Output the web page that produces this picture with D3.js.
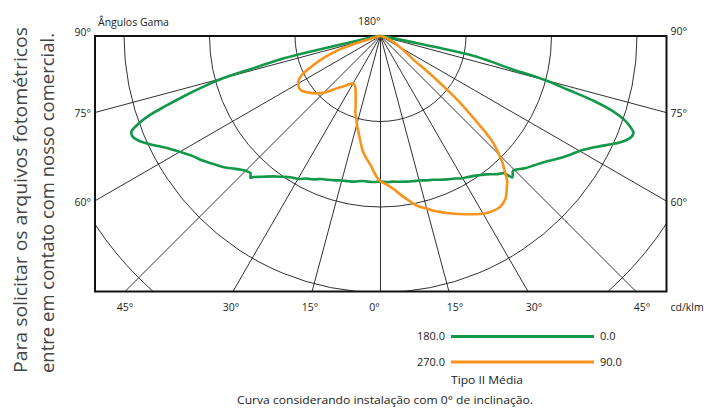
<!DOCTYPE html>
<html><head><meta charset="utf-8">
<script src="https://cdn.jsdelivr.net/npm/d3@7"></script>
<style>
body{margin:0;background:#fff;}
svg text{font-family:"Open Sans",sans-serif;fill:#222;}
</style></head><body>
<svg id="chart" width="718" height="410"></svg>
<script>
// ---------- DATA (gamma angle in degrees, intensity in cd/klm) ----------
const anglesC180 = [0,2.5,5,7.5,10,12.5,15,17.5,20,22.5,25,27.5,30,32.5,35,37.5,40,42,42.5,43.5,45,47.5,50,52.5,55,57.5,60,62.5,65,66,67,68,69,70,71,72,73,74,75,76,77,77.5,78,80,82,85,90];
const valuesC180 = [170,171,171,171,173,174,175,177,179,181,185,188,193,196,201,207,215,222,225,221,223,230,239,246,254,261,271,283,299,305,310,313,312,302,287,263,240,216,191,146,117,82,41,14,7,2,0];

const anglesC0 = [0,2.5,5,7.5,10,12.5,15,17.5,20,22.5,25,27.5,30,32.5,35,37.5,40,42,43,44.5,45.5,47.5,50,52.5,55,57.5,60,62.5,65,66,67,68,69,70,71,72,73,74,75,76,77,78,78.5,79,80,82,85,90];
const valuesC0 = [170,171,171,172,173,174,175,177,179,182,185,188,192,195,199,204,211,216,226,221,223,229,235,242,251,260,269,282,299,306,312,316,317,311,302,287,263,228,199,154,132,111,82,41,16,7,2,0];

const anglesC270 = [0,1.5,2.8,4,6,8,9,10.5,12.5,14.5,16,18,20,22.5,25,27.5,30,31,33,35,37.5,40,42.5,45,47.5,50,52.5,55,57.5,60,62,64,66,68.2,70,71,72,73,74,75,77.5,80,90];
const valuesC270 = [170,165,159,153,146,139,135,127,117,109,102,95,85,76,69,65,64,65,67,71,75,80,87,94,99,104,108,112,113,111,108,101,89,76,63,56,47,35,21,9,4,1,0];

const anglesC90 = [0,2.5,5,7.5,10,12.5,15,17.5,20,22.5,25,27.5,30,32.5,35,37.5,40,41,42,43,44,45,46,46.5,47,47.5,48,49,50,51,52,53,54,56,58,62,66,70,75,80,90];
const valuesC90 = [170,174,180,188,196,204,209,215,220,225,230,235,240,243,244,240,230,226,219,212,205,196,187,182,175,166,156,138,122,102,84,67,50,40,32,22,15,9,4,1,0];

const ringValues = [100,200,300,400];
const rayAngles = [-90,-75,-60,-45,-30,-15,0,15,30,45,60,75,90];
const sideTickAngles = [90,75,60];
const bottomTickAngles = [-45,-30,-15,0,15,30,45];
const legendLeft = ["180.0","270.0"];
const legendRight = ["0.0","90.0"];
const colors = ["#13984a","#f7941d"];

// ---------- LAYOUT ----------
const svg = d3.select("#chart");
const box = {left:95, right:666.5, top:36, bottom:291.5};
const cx = 380.5, cy = 36;

const rScale = d3.scaleLinear().domain([0,400]).range([0,342]);
// signed gamma: negative = left half-plane (180 / 270), positive = right (0 / 90)
const aScale = d3.scaleLinear().domain([-90,90]).range([1.5*Math.PI, 0.5*Math.PI]);
const rad = d => d*Math.PI/180;

svg.append("defs").append("clipPath").attr("id","boxclip")
  .append("rect").attr("x",box.left).attr("y",box.top)
  .attr("width",box.right-box.left).attr("height",box.bottom-box.top);

const grid = svg.append("g").attr("clip-path","url(#boxclip)");
const g = grid.append("g").attr("transform",`translate(${cx},${cy})`);

g.selectAll("circle.ring").data(ringValues).join("circle")
  .attr("class","ring").attr("r",d=>rScale(d))
  .attr("fill","none").attr("stroke","#1a1a1a").attr("stroke-width",0.9);

g.selectAll("line.ray").data(rayAngles).join("line")
  .attr("class","ray")
  .attr("x1",0).attr("y1",0)
  .attr("x2",d=>d3.pointRadial(aScale(d), rScale(700))[0])
  .attr("y2",d=>d3.pointRadial(aScale(d), rScale(700))[1])
  .attr("stroke","#1a1a1a").attr("stroke-width",0.9);

// frame
svg.append("rect").attr("x",box.left).attr("y",box.top)
  .attr("width",box.right-box.left).attr("height",box.bottom-box.top)
  .attr("fill","none").attr("stroke","#111").attr("stroke-width",2);

// curves
function plane(angL, valL, angR, valR){
  const pts = [];
  for(let i=angL.length-1;i>=0;i--) pts.push({g:-angL[i], v:valL[i]});
  for(let i=1;i<angR.length;i++) pts.push({g:angR[i], v:valR[i]});
  return pts;
}
const lineR = d3.lineRadial().angle(d=>aScale(d.g)).radius(d=>rScale(d.v))
  .curve(d3.curveCatmullRom.alpha(0.5));
const cg = svg.append("g").attr("transform",`translate(${cx},${cy})`);
cg.append("path").datum(plane(anglesC180,valuesC180,anglesC0,valuesC0))
  .attr("d",lineR).attr("fill","none").attr("stroke",colors[0]).attr("stroke-width",2.6).attr("stroke-linejoin","round");
cg.append("path").datum(plane(anglesC270,valuesC270,anglesC90,valuesC90))
  .attr("d",lineR).attr("fill","none").attr("stroke",colors[1]).attr("stroke-width",2.6).attr("stroke-linejoin","round");

// ---------- TEXT ----------
const fs = "10.5px";
svg.append("text").attr("x",box.left+3).attr("y",22).attr("dy","0.35em").style("font-size",fs).text("Ângulos Gama");
svg.append("text").attr("x",cx).attr("y",21).attr("dy","0.35em").attr("text-anchor","end").style("font-size",fs).text("180°");

const W = cx - box.left, WR = box.right - cx, H = box.bottom - cy;
svg.selectAll("text.lt").data(sideTickAngles).join("text").attr("class","lt")
  .attr("x",box.left-4).attr("y",d=> d===90 ? cy-4 : cy + W/Math.tan(rad(d)) + 1)
  .attr("dy","0.35em").attr("text-anchor","end").style("font-size",fs).text(d=>d+"°");
svg.selectAll("text.rt").data(sideTickAngles).join("text").attr("class","rt")
  .attr("x",box.right+4).attr("y",d=> d===90 ? cy-5 : cy + WR/Math.tan(rad(d)) + 1)
  .attr("dy","0.35em").attr("text-anchor","start").style("font-size",fs).text(d=>d+"°");
svg.selectAll("text.bt").data(bottomTickAngles).join("text").attr("class","bt")
  .attr("x",d=> cx + H*Math.tan(rad(d)) + (d>0 ? 6 : d===0 ? -6 : (d===-45?0:-2)))
  .attr("y",box.bottom+15.5).attr("dy","0.35em").attr("text-anchor","middle").style("font-size",fs)
  .text(d=>Math.abs(d)+"°");
svg.append("text").attr("x",box.right+4).attr("y",box.bottom+15.5).attr("dy","0.35em").style("font-size",fs).text("cd/klm");

// legend
const legY = [336.5, 362];
svg.selectAll("text.ll").data(legendLeft).join("text").attr("class","ll")
  .attr("x",445).attr("y",(d,i)=>legY[i]).attr("dy","0.35em").attr("text-anchor","end").style("font-size","11px").text(d=>d);
svg.selectAll("line.leg").data(colors).join("line").attr("class","leg")
  .attr("x1",451).attr("x2",594).attr("y1",(d,i)=>legY[i]).attr("y2",(d,i)=>legY[i])
  .attr("stroke",d=>d).attr("stroke-width",3);
svg.selectAll("text.lr").data(legendRight).join("text").attr("class","lr")
  .attr("x",600).attr("y",(d,i)=>legY[i]).attr("dy","0.35em").style("font-size","11px").text(d=>d);
svg.append("text").attr("x",451).attr("y",380).attr("dy","0.35em").attr("textLength",72).attr("lengthAdjust","spacingAndGlyphs")
  .style("font-size","11px").text("Tipo II Média");
svg.append("text").attr("x",237).attr("y",400).attr("dy","0.35em").attr("textLength",296).attr("lengthAdjust","spacingAndGlyphs")
  .style("font-size","11px").text("Curva considerando instalação com 0° de inclinação.");

// rotated side note
const note = ["Para solicitar os arquivos fotométricos","entre em contato com nosso comercial."];
const noteX = [26.5, 54];
const noteLen = [346, 340];
svg.selectAll("text.note").data(note).join("text").attr("class","note")
  .attr("transform",(d,i)=>`translate(${noteX[i]},373) rotate(-90)`)
  .attr("x",0).attr("y",0).attr("textLength",(d,i)=>noteLen[i]).attr("lengthAdjust","spacingAndGlyphs")
  .style("font-size","18px").style("fill","#444").text(d=>d);
</script>
</body></html>
